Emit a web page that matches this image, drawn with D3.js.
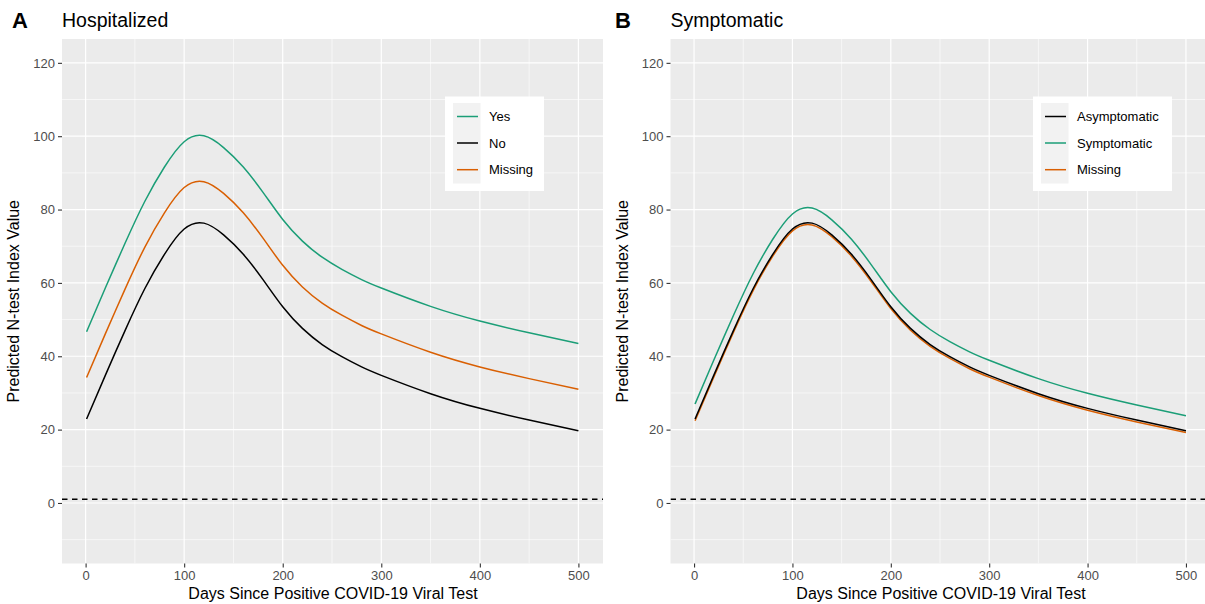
<!DOCTYPE html>
<html><head><meta charset="utf-8">
<script src="https://cdn.jsdelivr.net/npm/d3@7"></script>
<style>
html,body{margin:0;padding:0;background:#fff;}
svg{display:block;font-family:"Liberation Sans",Arial,sans-serif;}
</style></head>
<body>
<svg id="chart" width="1205" height="604"></svg>
<script>
// ---- data ----
const days = [1, 20, 40, 60, 80, 100, 120, 140, 160, 180, 200, 220, 240, 260, 280, 300, 350, 400, 450, 500];
const hospYes     = [46.7, 58.6, 70.8, 82.2, 91.6, 98.5, 100.1, 96.9, 91.6, 84.7, 77.3, 71.4, 67.0, 63.7, 60.9, 58.6, 53.6, 49.6, 46.4, 43.5];
const hospNo      = [22.9, 34.8, 47.0, 58.4, 67.8, 74.7, 76.3, 73.1, 67.8, 60.9, 53.5, 47.6, 43.2, 39.9, 37.1, 34.8, 29.8, 25.8, 22.6, 19.7];
const hospMissing = [34.2, 46.1, 58.3, 69.7, 79.1, 86.0, 87.6, 84.4, 79.1, 72.2, 64.8, 58.9, 54.5, 51.2, 48.4, 46.1, 41.1, 37.1, 33.9, 31.0];
const sympAsym    = [22.9, 34.8, 47.0, 58.4, 67.8, 74.7, 76.3, 73.1, 67.8, 60.9, 53.5, 47.6, 43.2, 39.9, 37.1, 34.8, 29.8, 25.8, 22.6, 19.7];
const sympSym     = [27.0, 38.9, 51.1, 62.5, 71.9, 78.8, 80.4, 77.2, 71.9, 65.0, 57.6, 51.7, 47.3, 44.0, 41.2, 38.9, 33.9, 29.9, 26.7, 23.8];
const sympMissing = [22.4, 34.3, 46.5, 57.9, 67.3, 74.2, 75.8, 72.6, 67.3, 60.4, 53.0, 47.1, 42.7, 39.4, 36.6, 34.3, 29.3, 25.3, 22.1, 19.2];
const xTicks = [0, 100, 200, 300, 400, 500];
const xMinor = [50, 150, 250, 350, 450];
const yTicks = [0, 20, 40, 60, 80, 100, 120];
const yMinor = [-10, 10, 30, 50, 70, 90, 110];
const refLine = 1;

const colYes = "#1b9e77", colNo = "#000000", colMiss = "#d95f02";

const panels = [
  {letter:"A", title:"Hospitalized", left:62, right:603, letterX:12, xTitleX:333,
   legend:{x:445, w:99},
   series:[
     {name:"Yes", vals:hospYes, color:colYes},
     {name:"No", vals:hospNo, color:colNo},
     {name:"Missing", vals:hospMissing, color:colMiss}],
   drawOrder:[2,1,0]},
  {letter:"B", title:"Symptomatic", left:670.5, right:1210.5, letterX:615, xTitleX:941,
   legend:{x:1033, w:139},
   series:[
     {name:"Asymptomatic", vals:sympAsym, color:colNo},
     {name:"Symptomatic", vals:sympSym, color:colYes},
     {name:"Missing", vals:sympMissing, color:colMiss}],
   drawOrder:[2,0,1]}
];

const svg = d3.select("#chart");
const pTop = 39, pBottom = 563.5;

panels.forEach(p => {
  const g = svg.append("g");
  const x = d3.scaleLinear().domain([-23.95, 524.95]).range([p.left, p.right]);
  const y = d3.scaleLinear().domain([-16.5, 126.5]).range([pBottom, pTop]);
  const clipId = "clip" + p.letter;
  svg.append("clipPath").attr("id", clipId).append("rect")
    .attr("x", p.left).attr("y", pTop).attr("width", p.right - p.left).attr("height", pBottom - pTop);

  g.append("rect").attr("x", p.left).attr("y", pTop)
    .attr("width", p.right - p.left).attr("height", pBottom - pTop).attr("fill", "#ebebeb");

  const grid = g.append("g").attr("clip-path", `url(#${clipId})`);
  grid.selectAll(".ymin").data(yMinor).join("line")
    .attr("x1", p.left).attr("x2", p.right).attr("y1", d => y(d)).attr("y2", d => y(d))
    .attr("stroke", "#fff").attr("stroke-width", 0.6);
  grid.selectAll(".xmin").data(xMinor).join("line")
    .attr("y1", pTop).attr("y2", pBottom).attr("x1", d => x(d)).attr("x2", d => x(d))
    .attr("stroke", "#fff").attr("stroke-width", 0.6);
  grid.selectAll(".ymaj").data(yTicks).join("line")
    .attr("x1", p.left).attr("x2", p.right).attr("y1", d => y(d)).attr("y2", d => y(d))
    .attr("stroke", "#fff").attr("stroke-width", 1.2);
  grid.selectAll(".xmaj").data(xTicks).join("line")
    .attr("y1", pTop).attr("y2", pBottom).attr("x1", d => x(d)).attr("x2", d => x(d))
    .attr("stroke", "#fff").attr("stroke-width", 1.2);

  // reference dashed line
  grid.append("line").attr("x1", p.left).attr("x2", p.right)
    .attr("y1", y(refLine)).attr("y2", y(refLine))
    .attr("stroke", "#000").attr("stroke-width", 1.4).attr("stroke-dasharray", "5.5,4.5");

  const line = d3.line().x((d, i) => x(days[i])).y(d => y(d)).curve(d3.curveNatural);
  p.drawOrder.forEach(k => {
    const s = p.series[k];
    grid.append("path").datum(s.vals).attr("d", line)
      .attr("fill", "none").attr("stroke", s.color).attr("stroke-width", 1.5);
  });

  // axes
  const xAxis = d3.axisBottom(x).tickValues(xTicks).tickSize(4).tickPadding(3);
  const xa = g.append("g").attr("transform", `translate(0,${pBottom})`).call(xAxis);
  xa.select(".domain").remove();
  xa.selectAll(".tick line").attr("stroke", "#333").attr("stroke-width", 1.1);
  xa.selectAll(".tick text").attr("fill", "#4d4d4d").attr("font-size", 13)
    .attr("font-family", "Liberation Sans, Arial, sans-serif");

  const yAxis = d3.axisLeft(y).tickValues(yTicks).tickSize(4).tickPadding(3);
  const ya = g.append("g").attr("transform", `translate(${p.left},0)`).call(yAxis);
  ya.select(".domain").remove();
  ya.selectAll(".tick line").attr("stroke", "#333").attr("stroke-width", 1.1);
  ya.selectAll(".tick text").attr("fill", "#4d4d4d").attr("font-size", 13)
    .attr("font-family", "Liberation Sans, Arial, sans-serif");

  // axis titles
  g.append("text").attr("x", p.xTitleX).attr("y", 599)
    .attr("text-anchor", "middle").attr("font-size", 16).attr("fill", "#000")
    .text("Days Since Positive COVID-19 Viral Test");
  g.append("text")
    .attr("transform", `translate(${p.left - 43},${(pTop + pBottom) / 2}) rotate(-90)`)
    .attr("text-anchor", "middle").attr("font-size", 16).attr("fill", "#000")
    .text("Predicted N-test Index Value");

  // titles
  g.append("text").attr("x", p.letterX).attr("y", 28).attr("font-size", 22)
    .attr("font-weight", "bold").attr("fill", "#000").text(p.letter);
  g.append("text").attr("x", p.left).attr("y", 27).attr("font-size", 19.5)
    .attr("fill", "#000").text(p.title);

  // legend
  const L = p.legend;
  const lg = g.append("g");
  lg.append("rect").attr("x", L.x).attr("y", 96.5).attr("width", L.w).attr("height", 94.5).attr("fill", "#fff");
  lg.append("rect").attr("x", L.x + 8).attr("y", 103).attr("width", 27.5).attr("height", 80.5).attr("fill", "#f2f2f2");
  const rowY = [116.5, 143, 169.7];
  p.series.forEach((s, i) => {
    lg.append("line").attr("x1", L.x + 12).attr("x2", L.x + 33)
      .attr("y1", rowY[i]).attr("y2", rowY[i]).attr("stroke", s.color).attr("stroke-width", 1.5);
    lg.append("text").attr("x", L.x + 44).attr("y", rowY[i] + 4.6)
      .attr("font-size", 13).attr("fill", "#000").text(s.name);
  });
});
</script>
</body></html>
